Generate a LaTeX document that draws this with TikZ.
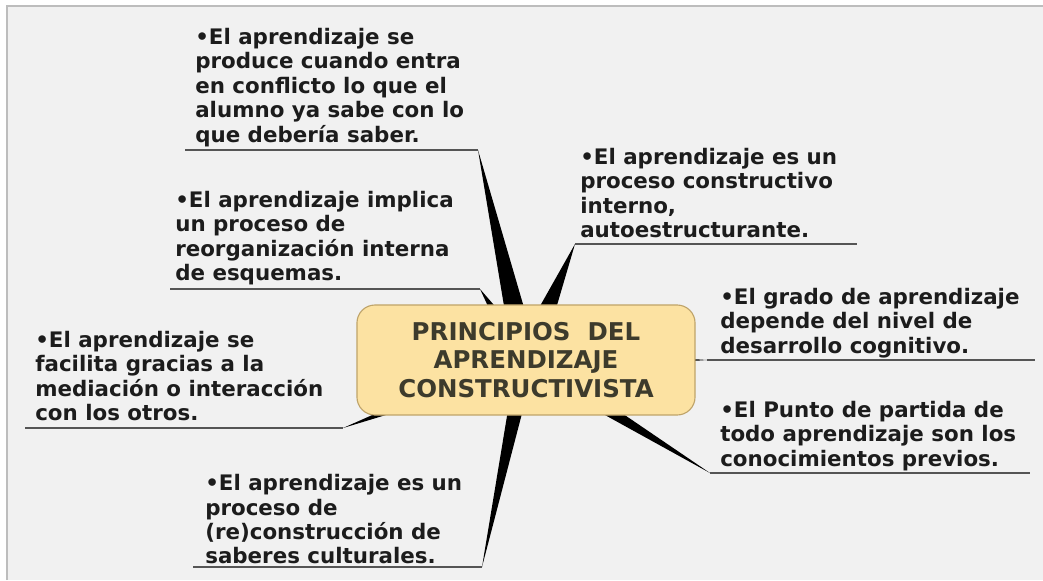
\documentclass[tikz,border=0pt]{standalone}
\usepackage{fontspec}
\setmainfont{DejaVu Sans}
\usepackage{tikz}
\usetikzlibrary{calc}

\definecolor{fondo}{HTML}{F1F1F1}
\definecolor{marco}{HTML}{BDBDBD}
\definecolor{caja}{HTML}{FCE2A2}
\definecolor{bordecaja}{HTML}{BFA46A}
\definecolor{titulo}{HTML}{3D3B2C}
\definecolor{linea}{HTML}{555555}
\definecolor{letra}{HTML}{1C1C1C}

% rama: cuña negra desde el centro hasta el extremo del subrayado
\newcommand{\rama}[2]{\fill[rama] ($(centro)!#2!90:(#1)$) -- (#1) -- ($(centro)!#2!-90:(#1)$) -- cycle;}

\begin{document}
\begin{tikzpicture}[x=0.025cm,y=-0.025cm,
    idea/.style={anchor=north west,inner sep=0pt,align=left,text=letra,
                 font=\fontsize{15.2}{17.4}\selectfont\bfseries},
    tema/.style={rectangle,rounded corners=0.45cm,draw=bordecaja,line width=0.8pt,
                 fill=caja,minimum width=8.45cm,minimum height=2.75cm,align=center,
                 text=titulo,font=\fontsize{17.4}{20}\selectfont\bfseries},
    subrayado/.style={draw=linea,line width=0.8pt},
    rama/.style={fill=black}]

  \useasboundingbox (0,0) rectangle (1043,580);
  \fill[white] (0,0) rectangle (1043,580);
  \fill[fondo] (7,6) rectangle (1043,580);
  \draw[marco,line width=1.2pt] (7,580) -- (7,6) -- (1043,6);

  \coordinate (centro) at (526,360);

  \coordinate (s1a) at (185,150);  \coordinate (s1b) at (478,150);
  \coordinate (s2a) at (170,289);  \coordinate (s2b) at (480,289);
  \coordinate (s3a) at (575,244);  \coordinate (s3b) at (857,244);
  \coordinate (s4a) at (707,360);  \coordinate (s4b) at (1035,360);
  \coordinate (s5a) at (710,473);  \coordinate (s5b) at (1030,473);
  \coordinate (s6a) at (25,428);   \coordinate (s6b) at (343,428);
  \coordinate (s7a) at (193,567);  \coordinate (s7b) at (482,567);

  \rama{s1b}{0.32cm}
  \rama{s2b}{0.3cm}
  \rama{s3a}{0.36cm}
  \rama{s4a}{0.3cm}
  \rama{s5a}{0.25cm}
  \rama{s6b}{0.3cm}
  \rama{s7b}{0.24cm}

  \path[subrayado] (s1a) -- (s1b) (s2a) -- (s2b) (s3a) -- (s3b) (s4a) -- (s4b)
                   (s5a) -- (s5b) (s6a) -- (s6b) (s7a) -- (s7b);

  \node[idea] (texto1) at (195,28) {•El aprendizaje se\\produce cuando entra\\en conflicto lo que el\\alumno ya sabe con lo\\que debería saber.};
  \node[idea] (texto2) at (175,191) {•El aprendizaje implica\\un proceso de\\reorganización interna\\de esquemas.};
  \node[idea] (texto3) at (580,148) {•El aprendizaje es un\\proceso constructivo\\interno,\\autoestructurante.};
  \node[idea] (texto4) at (720,288) {•El grado de aprendizaje\\depende del nivel de\\desarrollo cognitivo.};
  \node[idea] (texto5) at (720,401) {•El Punto de partida de\\todo aprendizaje son los\\conocimientos previos.};
  \node[idea] (texto6) at (35,331) {•El aprendizaje se\\facilita gracias a la\\mediación o interacción\\con los otros.};
  \node[idea] (texto7) at (205,474) {•El aprendizaje es un\\proceso de\\(re)construcción de\\saberes culturales.};

  \node[tema] (principios) at (centro) {PRINCIPIOS\ \ DEL\\APRENDIZAJE\\CONSTRUCTIVISTA};

\end{tikzpicture}
\end{document}
